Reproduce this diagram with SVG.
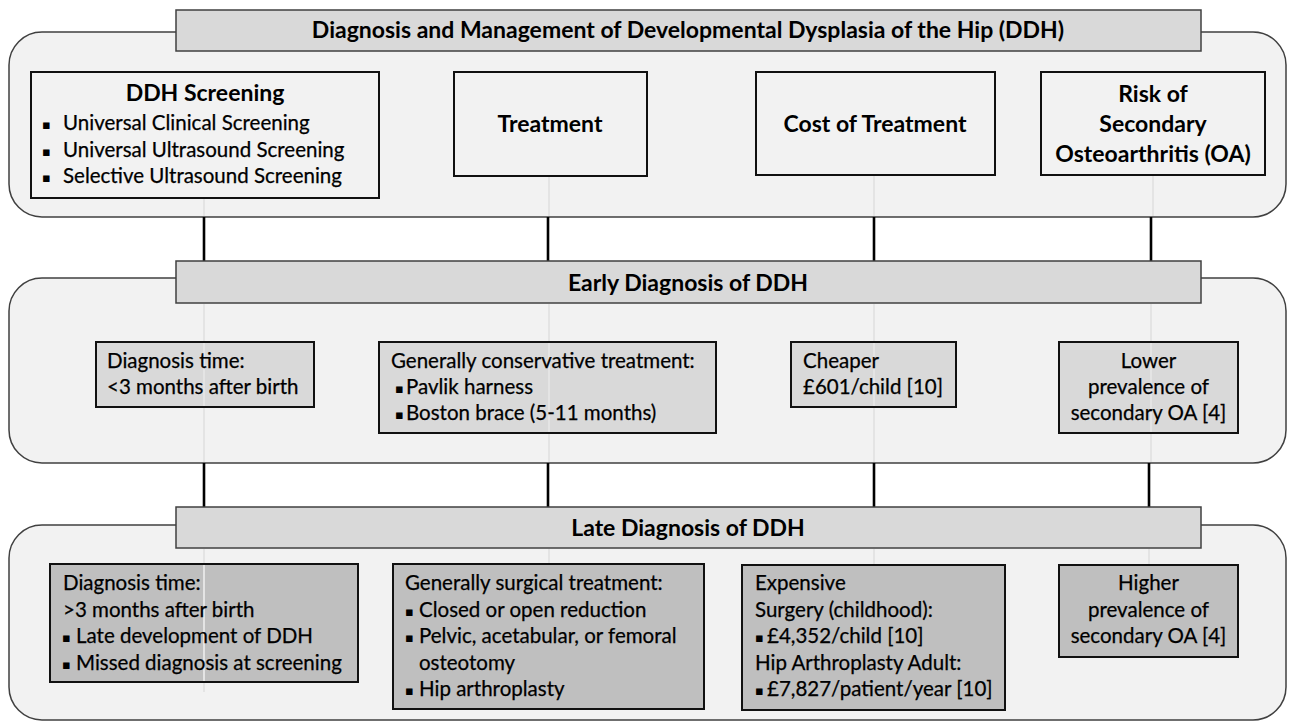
<svg xmlns="http://www.w3.org/2000/svg" width="1289" height="723" viewBox="0 0 1289 723">
<style>
.panel{fill:#f2f2f2;stroke:#404040;stroke-width:1.5}
.bar{fill:#d9d9d9;stroke:#404040;stroke-width:1.5}
.b1{fill:#f2f2f2;stroke:#111;stroke-width:2}
.b2{fill:#d9d9d9;stroke:#111;stroke-width:2}
.b3{fill:#bfbfbf;stroke:#111;stroke-width:2}
.conn{stroke:#000;stroke-width:2.6;fill:none}
.faint{stroke:#e4e4e4;stroke-width:2;fill:none}
text{font-family:Lato,"Open Sans","Liberation Sans",sans-serif;fill:#000}
.t{font-size:20.5px;stroke:#000;stroke-width:0.25}
.h{font-size:23px;font-weight:bold}
.c{text-anchor:middle}
.bu{font-family:"DejaVu Sans",sans-serif;font-size:13px}
</style>
<g id="panel-top">
<rect class="panel" x="9" y="32" width="1277" height="185" rx="33"/>
</g>
<g id="panel-early">
<rect class="panel" x="9" y="278" width="1277" height="185" rx="33"/>
</g>
<g id="panel-late">
<rect class="panel" x="9" y="525" width="1277" height="195" rx="33"/>
</g>
<g id="connectors">
<line class="conn" x1="204" y1="217" x2="204" y2="261"/>
<line class="conn" x1="548" y1="217" x2="548" y2="261"/>
<line class="conn" x1="874" y1="217" x2="874" y2="261"/>
<line class="conn" x1="1151" y1="217" x2="1151" y2="261"/>
<line class="conn" x1="204" y1="463" x2="204" y2="507"/>
<line class="conn" x1="548" y1="463" x2="548" y2="507"/>
<line class="conn" x1="874" y1="463" x2="874" y2="507"/>
<line class="conn" x1="1149" y1="463" x2="1149" y2="507"/>
<line class="faint" x1="204" y1="199" x2="204" y2="216"/>
<line class="faint" x1="549" y1="177" x2="549" y2="216"/>
<line class="faint" x1="874" y1="176" x2="874" y2="216"/>
<line class="faint" x1="1153" y1="176" x2="1153" y2="216"/>
<line class="faint" x1="204" y1="304" x2="204" y2="462"/>
<line class="faint" x1="549" y1="304" x2="549" y2="462"/>
<line class="faint" x1="874" y1="304" x2="874" y2="462"/>
<line class="faint" x1="1151" y1="304" x2="1151" y2="462"/>
<line class="faint" x1="204" y1="549" x2="204" y2="692"/>
<line class="faint" x1="549" y1="549" x2="549" y2="563"/>
<line class="faint" x1="874" y1="549" x2="874" y2="564"/>
<line class="faint" x1="1149" y1="549" x2="1149" y2="564"/>
</g>
<g id="title-top">
<rect class="bar" x="176" y="10" width="1025" height="41"/>
<text class="h c" x="688" y="38">Diagnosis and Management of Developmental Dysplasia of the Hip (DDH)</text>
</g>
<g id="title-early">
<rect class="bar" x="176" y="261" width="1025" height="42"/>
<text class="h c" x="688" y="291">Early Diagnosis of DDH</text>
</g>
<g id="title-late">
<rect class="bar" x="176" y="507" width="1025" height="41"/>
<text class="h c" x="688" y="536">Late Diagnosis of DDH</text>
</g>
<g id="node-screening">
<rect class="b1" x="31" y="72" width="348" height="126"/>
<text class="h c" x="205" y="101">DDH Screening</text>
<text class="bu" x="42" y="129">▪</text><text class="t" x="63" y="130">Universal Clinical Screening</text>
<text class="bu" x="42" y="156">▪</text><text class="t" x="63" y="157">Universal Ultrasound Screening</text>
<text class="bu" x="42" y="182">▪</text><text class="t" x="63" y="183">Selective Ultrasound Screening</text>
</g>
<g id="node-treatment">
<rect class="b1" x="454" y="72" width="193" height="104"/>
<text class="h c" x="550" y="132">Treatment</text>
</g>
<g id="node-cost">
<rect class="b1" x="756" y="72" width="239" height="103"/>
<text class="h c" x="875" y="132">Cost of Treatment</text>
</g>
<g id="node-risk">
<rect class="b1" x="1041" y="72" width="224" height="103"/>
<text class="h c" x="1153" y="102">Risk of</text>
<text class="h c" x="1153" y="132">Secondary</text>
<text class="h c" x="1153" y="162">Osteoarthritis (OA)</text>
</g>
<g id="node-early-time">
<rect class="b2" x="96" y="342" width="218" height="65"/>
<line class="faint" x1="204" y1="343" x2="204" y2="406"/>
<text class="t" x="107" y="368">Diagnosis time:</text>
<text class="t" x="107" y="394">&lt;3 months after birth</text>
</g>
<g id="node-early-treat">
<rect class="b2" x="379" y="342" width="337" height="91"/>
<line class="faint" x1="549" y1="343" x2="549" y2="432"/>
<text class="t" x="391" y="368">Generally conservative treatment:</text>
<text class="bu" x="395" y="393">▪</text><text class="t" x="406" y="394">Pavlik harness</text>
<text class="bu" x="395" y="419">▪</text><text class="t" x="406" y="420">Boston brace (5-11 months)</text>
</g>
<g id="node-early-cost">
<rect class="b2" x="791" y="342" width="165" height="65"/>
<line class="faint" x1="874" y1="343" x2="874" y2="406"/>
<text class="t" x="803" y="368">Cheaper</text>
<text class="t" x="803" y="394">£601/child [10]</text>
</g>
<g id="node-early-oa">
<rect class="b2" x="1059" y="342" width="179" height="91"/>
<line class="faint" x1="1151" y1="343" x2="1151" y2="432"/>
<text class="t c" x="1148.5" y="368">Lower</text>
<text class="t c" x="1148.5" y="394">prevalence of</text>
<text class="t c" x="1148.5" y="420">secondary OA [4]</text>
</g>
<g id="node-late-time">
<rect class="b3" x="50" y="564" width="308" height="118"/>
<line class="faint" x1="204" y1="565" x2="204" y2="681"/>
<text class="t" x="63" y="590">Diagnosis time:</text>
<text class="t" x="63" y="617">&gt;3 months after birth</text>
<text class="bu" x="62" y="642">▪</text><text class="t" x="76" y="643">Late development of DDH</text>
<text class="bu" x="62" y="669">▪</text><text class="t" x="76" y="670">Missed diagnosis at screening</text>
</g>
<g id="node-late-treat">
<rect class="b3" x="393" y="564" width="311" height="145"/>
<text class="t" x="405" y="590">Generally surgical treatment:</text>
<text class="bu" x="405" y="616">▪</text><text class="t" x="419" y="617">Closed or open reduction</text>
<text class="bu" x="405" y="642">▪</text><text class="t" x="419" y="643">Pelvic, acetabular, or femoral</text>
<text class="t" x="419" y="670">osteotomy</text>
<text class="bu" x="405" y="695">▪</text><text class="t" x="419" y="696">Hip arthroplasty</text>
</g>
<g id="node-late-cost">
<rect class="b3" x="742" y="565" width="263" height="145"/>
<text class="t" x="755" y="590">Expensive</text>
<text class="t" x="755" y="617">Surgery (childhood):</text>
<text class="bu" x="755" y="642">▪</text><text class="t" x="767" y="643">£4,352/child [10]</text>
<text class="t" x="755" y="670">Hip Arthroplasty Adult:</text>
<text class="bu" x="755" y="695">▪</text><text class="t" x="767" y="696">£7,827/patient/year [10]</text>
</g>
<g id="node-late-oa">
<rect class="b3" x="1059" y="565" width="179" height="92"/>
<text class="t c" x="1148.5" y="590">Higher</text>
<text class="t c" x="1148.5" y="617">prevalence of</text>
<text class="t c" x="1148.5" y="643">secondary OA [4]</text>
</g>
</svg>
